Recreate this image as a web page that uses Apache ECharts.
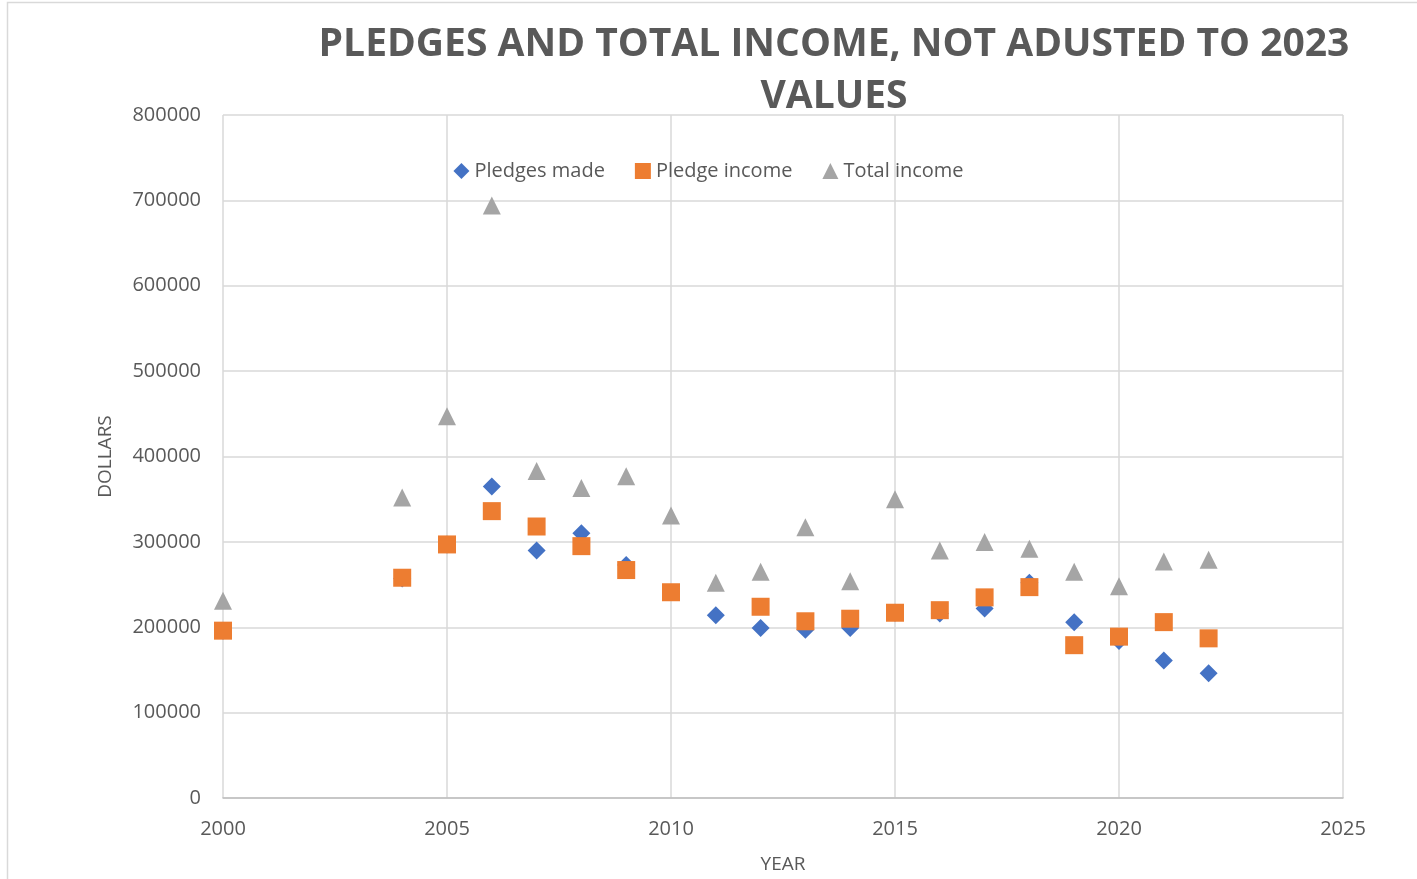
<!DOCTYPE html>
<html>
<head>
<meta charset="utf-8">
<script src="https://cdn.jsdelivr.net/npm/echarts@6/dist/echarts.min.js"></script>
<style>
  html, body { margin: 0; padding: 0; background: #fff; }
  #chart { width: 1417px; height: 879px; }
</style>
</head>
<body>
<div id="chart"></div>
<script>
// years and values
var years = [2000, 2004, 2005, 2006, 2007, 2008, 2009, 2010, 2011, 2012, 2013, 2014, 2015, 2016, 2017, 2018, 2019, 2020, 2021, 2022];
var pledgesMade  = [196000, 257000, 297000, 365000, 290000, 310000, 273000, null, 214000, 199000, 197000, 199000, 217000, 216000, 222000, 252000, 206000, 184000, 161000, 146000];
var pledgeIncome = [196000, 258000, 297000, 336000, 318000, 295000, 267000, 241000, null, 224000, 207000, 210000, 217000, 220000, 235000, 247000, 179000, 189000, 206000, 187000];
var totalIncome  = [231000, 352000, 447000, 694000, 383000, 363000, 377000, 331000, 252000, 265000, 317000, 254000, 350000, 290000, 300000, 292000, 265000, 248000, 277000, 279000];

function pairs(vals) {
    var out = [];
    for (var i = 0; i < years.length; i++) {
        if (vals[i] != null) out.push([years[i], vals[i]]);
    }
    return out;
}

var textColor = '#595959';
var font = '"Open Sans", "Noto Sans", sans-serif';
var plain = function (v) { return String(v); };

var chart = echarts.init(document.getElementById('chart'));
var option = {
    backgroundColor: '#fff',
    animation: false,
    title: {
        text: 'PLEDGES AND TOTAL INCOME, NOT ADUSTED TO 2023\nVALUES',
        left: 829,
        top: 14,
        textAlign: 'center',
        textStyle: {
            fontFamily: font,
            fontSize: 39,
            fontWeight: 'bold',
            color: textColor,
            lineHeight: 52
        }
    },
    legend: {
        top: 156,
        left: 'center',
        itemGap: 30,
        itemWidth: 16,
        itemHeight: 16,
        textStyle: { fontFamily: font, fontSize: 20, color: textColor },
        data: ['Pledges made', 'Pledge income', 'Total income']
    },
    grid: { left: 223, right: 74, top: 115, bottom: 81 },
    xAxis: {
        type: 'value',
        min: 2000,
        max: 2025,
        interval: 5,
        name: 'YEAR',
        nameLocation: 'middle',
        nameGap: 57,
        nameTextStyle: { fontFamily: font, fontSize: 19, color: textColor },
        axisLine: { show: true, lineStyle: { color: '#bfbfbf', width: 1.5 } },
        axisTick: { show: false },
        axisLabel: { fontFamily: font, fontSize: 20, color: textColor, margin: 21, formatter: plain },
        splitLine: { show: true, lineStyle: { color: '#d9d9d9', width: 1.5 } }
    },
    yAxis: {
        type: 'value',
        min: 0,
        max: 800000,
        interval: 100000,
        name: 'DOLLARS',
        nameLocation: 'middle',
        nameGap: 108,
        nameTextStyle: { fontFamily: font, fontSize: 19, color: textColor },
        axisLine: { show: false },
        axisTick: { show: false },
        axisLabel: { fontFamily: font, fontSize: 20, color: textColor, margin: 22, formatter: plain },
        splitLine: { show: true, lineStyle: { color: '#d9d9d9', width: 1.5 } }
    },
    graphic: [{
        type: 'rect',
        left: 5,
        top: 0,
        shape: { width: 1430, height: 900 },
        style: { fill: 'none', stroke: '#d9d9d9', lineWidth: 1.5 },
        silent: true
    }],
    series: [
        {
            name: 'Pledges made',
            type: 'scatter',
            symbol: 'diamond',
            symbolSize: 18,
            itemStyle: { color: '#4472c4', opacity: 1 },
            data: pairs(pledgesMade)
        },
        {
            name: 'Pledge income',
            type: 'scatter',
            symbol: 'rect',
            symbolSize: 18,
            itemStyle: { color: '#ed7d31', opacity: 1 },
            data: pairs(pledgeIncome)
        },
        {
            name: 'Total income',
            type: 'scatter',
            symbol: 'triangle',
            symbolSize: 18,
            itemStyle: { color: '#a5a5a5', opacity: 1 },
            data: pairs(totalIncome)
        }
    ]
};
chart.setOption(option);
</script>
</body>
</html>
